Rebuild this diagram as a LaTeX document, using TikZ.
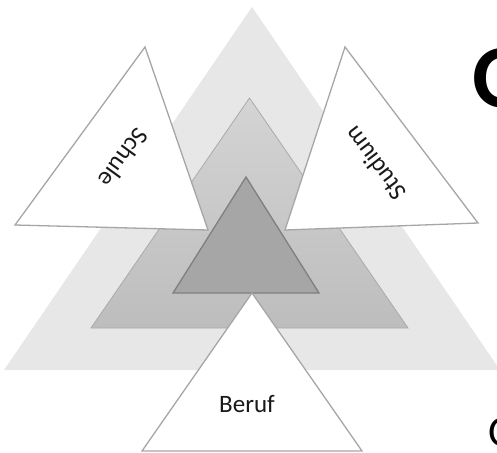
\documentclass[tikz,border=0pt]{standalone}
\usepackage{fontspec}
\setmainfont{Carlito}
\usepackage{tikz}
\usetikzlibrary{calc}
\definecolor{outerfill}{HTML}{E8E7E8}
\definecolor{midtop}{HTML}{D4D4D4}
\definecolor{midbot}{HTML}{BDBDBD}
\definecolor{midline}{HTML}{AAAAAA}
\definecolor{corefill}{HTML}{A6A6A6}
\definecolor{coreline}{HTML}{7F7F7F}
\definecolor{petalline}{HTML}{A6A6A6}

\begin{document}
\begin{tikzpicture}[x=1pt, y=-1pt,
    layer/.style={line join=miter},
    petal/.style={draw=petalline, fill=white, line width=1.3pt},
    lbl/.style={font=\fontsize{25}{30}\selectfont, text=black!90, inner sep=0pt}]

    \clip (0,0) rectangle (497,452);

    % --- Background layers ---
    \coordinate (oA) at (252,7);
    \coordinate (oB) at (4,370);
    \coordinate (oC) at (500,370);
    \fill[outerfill] (oA) -- (oB) -- (oC) -- cycle;

    \coordinate (mA) at (249.5,98);
    \coordinate (mB) at (91,328);
    \coordinate (mC) at (408,328);
    \shade[top color=midtop, bottom color=midbot] (mA) -- (mB) -- (mC) -- cycle;
    \draw[midline, line width=0.8pt] (mA) -- (mB) -- (mC) -- cycle;

    \coordinate (cA) at (246,177);
    \coordinate (cB) at (173,293);
    \coordinate (cC) at (319,293);
    \draw[layer, draw=coreline, fill=corefill, line width=1.3pt] (cA) -- (cB) -- (cC) -- cycle;

    % --- Petals ---
    \coordinate (sA) at (208,230);
    \coordinate (sB) at (145,47);
    \coordinate (sC) at (15,225);
    \draw[petal] (sA) -- (sB) -- (sC) -- cycle;

    \coordinate (tA) at (285,230);
    \coordinate (tB) at (345,47);
    \coordinate (tC) at (478,223);
    \draw[petal] (tA) -- (tB) -- (tC) -- cycle;

    \coordinate (bA) at (252,293);
    \coordinate (bB) at (142,451);
    \coordinate (bC) at (362,451);
    \draw[petal] (bA) -- (bB) -- (bC) -- cycle;

    % --- Labels ---
    \node[lbl, rotate=-126] (schule)  at (124,158) {Schule};
    \node[lbl, rotate=127]  (studium) at (375,164) {Studium};
    \node[lbl]              (beruf)   at (247,404) {Beruf};

    % --- Cut-off letters at the right edge ---
    \node[anchor=base west, inner sep=0pt, font=\fontsize{90}{100}\selectfont\bfseries] (bigO) at (472,107) {O};
    \node[anchor=base west, inner sep=0pt, font=\fontsize{44}{50}\selectfont] (smallO) at (488,446) {O};
\end{tikzpicture}
\end{document}
